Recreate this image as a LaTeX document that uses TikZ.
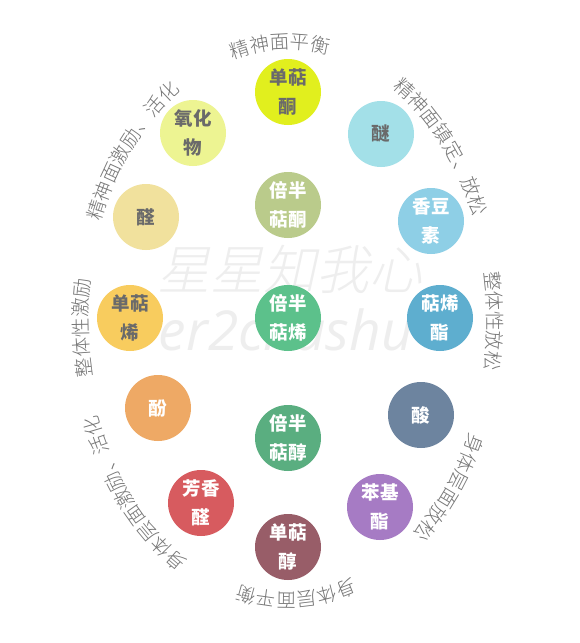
\documentclass[tikz,border=0pt]{standalone}
\usepackage{fontspec}
\usetikzlibrary{decorations.text}
\newfontfamily\cjk{Noto Sans CJK SC}
\IfFontExistsTF{Noto Sans CJK SC Light}
  {\newfontfamily\cjklight{Noto Sans CJK SC Light}
   \newfontfamily\cjklightA[LetterSpace=6]{Noto Sans CJK SC Light}
   \newfontfamily\cjklightB[LetterSpace=10]{Noto Sans CJK SC Light}
   \newfontfamily\wmcjk[FakeSlant=0.22]{Noto Sans CJK SC Light}}
  {\newfontfamily\cjklight{Noto Sans CJK SC}
   \newfontfamily\cjklightA[LetterSpace=6]{Noto Sans CJK SC}
   \newfontfamily\cjklightB[LetterSpace=10]{Noto Sans CJK SC}
   \newfontfamily\wmcjk[FakeSlant=0.22]{Noto Sans CJK SC}}
\newfontfamily\wmlat{Open Sans}
\definecolor{labelgray}{HTML}{767676}
\definecolor{darktxt}{HTML}{6A6A6A}
\definecolor{wm}{HTML}{EEEEEE}
\definecolor{cDTT}{HTML}{E1EF1E}
\definecolor{cYHW}{HTML}{EDF492}
\definecolor{cMI}{HTML}{A3E0E8}
\definecolor{cQUAN}{HTML}{F1E19D}
\definecolor{cXDD}{HTML}{8ECFE6}
\definecolor{cDTX}{HTML}{F8CC5E}
\definecolor{cTXZ}{HTML}{5EAECF}
\definecolor{cFEN}{HTML}{EEA965}
\definecolor{cSUAN}{HTML}{6D849F}
\definecolor{cFXQ}{HTML}{D75B5F}
\definecolor{cBJZ}{HTML}{A67BC4}
\definecolor{cDTC}{HTML}{985D68}
\definecolor{cBBTT}{HTML}{BACB8B}
\definecolor{cBBTX}{HTML}{5CC18B}
\definecolor{cBBTC}{HTML}{5AAE80}
\tikzset{
  ball/.style={circle, minimum size=66pt, inner sep=0pt, align=center,
    font=\cjk\bfseries\fontsize{18.5}{29}\selectfont},
  arclabel/.style 2 args={decorate, decoration={text along path, text align=center,
    text color=labelgray, text={|#1\fontsize{19.5}{19.5}\selectfont|#2}}}
}
\begin{document}
\begin{tikzpicture}[x=1pt,y=1pt]
\fill[white] (0,0) rectangle (580,-643);
\useasboundingbox (0,0) rectangle (580,-643);
\coordinate (O) at (288,-321);
% watermark
\node[anchor=base, text=wm, font=\wmcjk\fontsize{53}{53}\selectfont] (wm1) at (290,-289) {星星知我心};
\node[anchor=base, text=wm, font=\wmlat\itshape\fontsize{55}{55}\selectfont] (wm2) at (286,-350) {er2chashu};
% circles
\node[ball, fill=cDTT, text=darktxt] (dtt) at (288,-92) {单萜\\酮};
\node[ball, fill=cYHW, text=darktxt] (yhw) at (193,-133) {氧化\\物};
\node[ball, fill=cMI, text=darktxt] (mi) at (381,-134) {醚};
\node[ball, fill=cQUAN, text=darktxt] (quan) at (146,-217) {醛};
\node[ball, fill=cXDD, text=white] (xdd) at (431,-221) {香豆\\素};
\node[ball, fill=cDTX, text=darktxt] (dtx) at (130,-318) {单萜\\烯};
\node[ball, fill=cTXZ, text=white] (txz) at (440,-318) {萜烯\\酯};
\node[ball, fill=cFEN, text=white] (fen) at (158,-408) {酚};
\node[ball, fill=cSUAN, text=white] (suan) at (421,-415) {酸};
\node[ball, fill=cFXQ, text=white] (fxq) at (201,-503) {芳香\\醛};
\node[ball, fill=cBJZ, text=white] (bjz) at (380,-507) {苯基\\酯};
\node[ball, fill=cDTC, text=white] (dtc) at (288,-547) {单萜\\醇};
\node[ball, fill=cBBTT, text=white] (bbtt) at (288,-205) {倍半\\萜酮};
\node[ball, fill=cBBTX, text=white] (bbtx) at (288,-318) {倍半\\萜烯};
\node[ball, fill=cBBTC, text=white] (bbtc) at (288,-438) {倍半\\萜醇};
% curved labels (clockwise, tops outward)
\path[arclabel={\cjklight}{精神面平衡}] ([shift={(127:200 and 272)}]O) arc[start angle=127, end angle=57, x radius=200, y radius=272];
\path[arclabel={\cjklightA}{精神面镇定、放松}] ([shift={(89:201 and 273)}]O) arc[start angle=89, end angle=-1, x radius=201, y radius=273];
\path[arclabel={\cjklight}{整体性放松}] ([shift={(35:200 and 272)}]O) arc[start angle=35, end angle=-35, x radius=200, y radius=272];
\path[arclabel={\cjklight}{身体层面放松}] ([shift={(-5:200 and 272)}]O) arc[start angle=-5, end angle=-75, x radius=200, y radius=272];
\path[arclabel={\cjklight}{身体层面平衡}] ([shift={(-50:200 and 272)}]O) arc[start angle=-50, end angle=-126, x radius=200, y radius=272];
\path[arclabel={\cjklightB}{身体层面激励、活化}] ([shift={(-91:203 and 276)}]O) arc[start angle=-91, end angle=-182, x radius=203, y radius=276];
\path[arclabel={\cjklight}{整体性激励}] ([shift={(215:200 and 272)}]O) arc[start angle=215, end angle=148, x radius=200, y radius=272];
\path[arclabel={\cjklightA}{精神面激励、活化}] ([shift={(180:201 and 273)}]O) arc[start angle=180, end angle=95, x radius=201, y radius=273];
\end{tikzpicture}
\end{document}
